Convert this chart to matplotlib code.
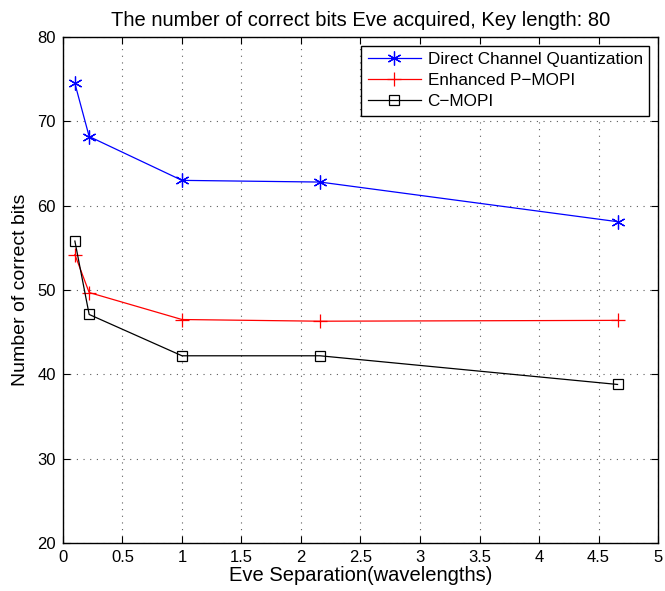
import matplotlib.pyplot as plt

# Eve separation (wavelengths)
sep = [0.1, 0.22, 1.0, 2.16, 4.66]
# number of correct bits Eve acquired
direct_q = [74.5, 68.2, 63.0, 62.8, 58.1]
enh_pmopi = [54.2, 49.7, 46.5, 46.3, 46.4]
c_mopi = [55.8, 47.1, 42.2, 42.2, 38.8]

plt.rcParams['font.family'] = ['Liberation Sans', 'DejaVu Sans']

fig = plt.figure(figsize=(6.65, 5.91), dpi=100)
ax = fig.add_axes([0.0947, 0.0812, 0.8948, 0.8562])

# (6, 2, 0) -> six-armed asterisk like MATLAB's '*'
ax.plot(sep, direct_q, color='blue', marker=(6, 2, 0), markersize=10, lw=0.9,
        markeredgewidth=0.9, label='Direct Channel Quantization')
ax.plot(sep, enh_pmopi, color='red', marker='+', markersize=10, lw=0.9,
        markeredgewidth=0.9, label='Enhanced P\u2212MOPI')
ax.plot(sep, c_mopi, color='black', marker='s', markersize=7, lw=0.9,
        markerfacecolor='none', markeredgewidth=0.9, label='C\u2212MOPI')

ax.set_xlim(0, 5)
ax.set_ylim(20, 80)
ax.set_xticks([0, 0.5, 1, 1.5, 2, 2.5, 3, 3.5, 4, 4.5, 5])
ax.set_xticklabels(['0', '0.5', '1', '1.5', '2', '2.5', '3', '3.5', '4', '4.5', '5'])
ax.set_yticks(range(20, 81, 10))
ax.grid(True, linestyle=(0, (1, 5)), color='#333333', lw=0.8, alpha=0.8)
ax.tick_params(direction='in', top=True, right=True, labelsize=12, length=5, pad=5)
for s in ax.spines.values():
    s.set_linewidth(1.0)

ax.set_xlabel('Eve Separation(wavelengths)', fontsize=14.5, labelpad=1)
ax.set_ylabel('Number of correct bits', fontsize=14, labelpad=6)
ax.set_title('The number of correct bits Eve acquired, Key length: 80', fontsize=14.5, pad=8)

leg = ax.legend(loc='upper right', fontsize=12.3, fancybox=False, framealpha=1,
                edgecolor='black', borderaxespad=0.5, handlelength=3.1,
                handletextpad=0.4, labelspacing=0.35, borderpad=0.4)
leg.get_frame().set_linewidth(1.0)

fig.savefig('out.png', dpi=100)
